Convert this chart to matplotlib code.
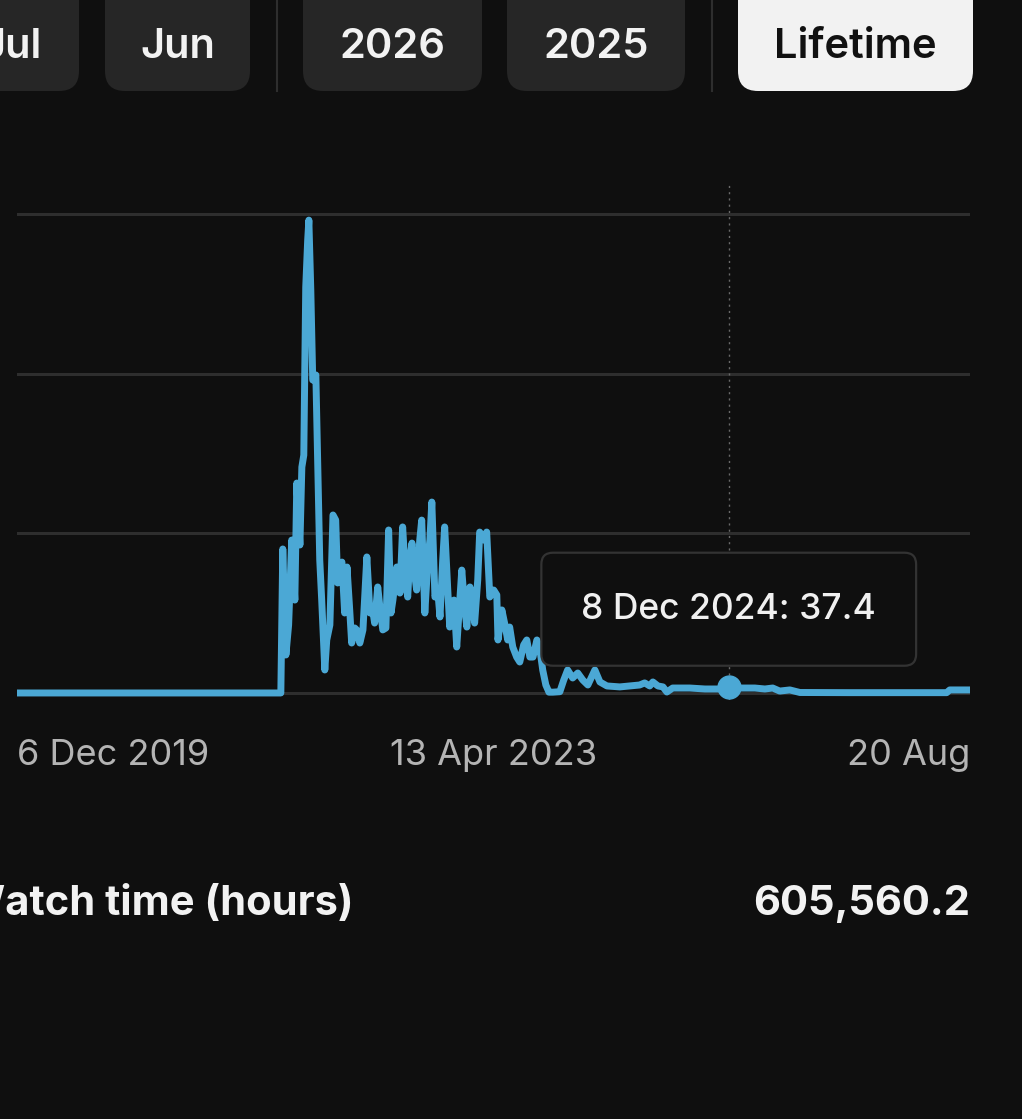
import matplotlib
matplotlib.use("Agg")
import matplotlib.pyplot as plt
import pandas as pd
from matplotlib.patches import FancyBboxPatch

plt.rcParams['font.family'] = ['Inter', 'DejaVu Sans']

# --- data (daily watch time, hours) ---
DATES = [
    "2019-12-06", "2021-10-14", "2021-10-19", "2021-10-27", "2021-11-03",
    "2021-11-11", "2021-11-19", "2021-11-24", "2021-12-02", "2021-12-07",
    "2021-12-12", "2021-12-17", "2021-12-22", "2021-12-25", "2021-12-30",
    "2022-01-04", "2022-01-12", "2022-01-17", "2022-01-22", "2022-01-27",
    "2022-02-04", "2022-02-09", "2022-02-17", "2022-02-25", "2022-03-04",
    "2022-03-09", "2022-03-15", "2022-03-20", "2022-03-27", "2022-04-02",
    "2022-04-09", "2022-04-14", "2022-04-22", "2022-04-27", "2022-05-05",
    "2022-05-13", "2022-05-23", "2022-05-31", "2022-06-07", "2022-06-12",
    "2022-06-20", "2022-06-25", "2022-07-03", "2022-07-11", "2022-07-18",
    "2022-07-24", "2022-07-29", "2022-08-08", "2022-08-16", "2022-08-23",
    "2022-08-31", "2022-09-05", "2022-09-10", "2022-09-16", "2022-09-23",
    "2022-09-28", "2022-10-06", "2022-10-11", "2022-10-19", "2022-10-27",
    "2022-11-01", "2022-11-06", "2022-11-14", "2022-11-21", "2022-11-27",
    "2022-12-04", "2022-12-09", "2022-12-17", "2022-12-22", "2023-01-02",
    "2023-01-09", "2023-01-17", "2023-01-22", "2023-01-30", "2023-02-04",
    "2023-02-12", "2023-02-19", "2023-02-24", "2023-03-04", "2023-03-09",
    "2023-03-20", "2023-03-27", "2023-04-04", "2023-04-14", "2023-04-22",
    "2023-04-25", "2023-05-05", "2023-05-13", "2023-05-20", "2023-05-25",
    "2023-06-02", "2023-06-12", "2023-06-20", "2023-06-30", "2023-07-08",
    "2023-07-16", "2023-07-24", "2023-08-03", "2023-08-11", "2023-08-18",
    "2023-08-26", "2023-09-03", "2023-09-13", "2023-10-01", "2023-10-11",
    "2023-10-21", "2023-11-03", "2023-11-16", "2023-11-29", "2023-12-12",
    "2023-12-30", "2024-01-12", "2024-01-30", "2024-03-03", "2024-03-29",
    "2024-04-23", "2024-05-06", "2024-05-19", "2024-05-27", "2024-06-09",
    "2024-06-22", "2024-07-02", "2024-07-17", "2024-08-30", "2024-10-08",
    "2024-11-15", "2024-12-08", "2024-12-24", "2025-01-13", "2025-02-13",
    "2025-03-11", "2025-03-31", "2025-04-18", "2025-05-14", "2025-06-09",
    "2025-10-15", "2026-02-21", "2026-06-21", "2026-06-29", "2026-07-25",
    "2026-08-20",
]
HOURS = [
    0, 0, 902, 238, 426,
    958, 582, 1315, 927, 1415,
    1490, 2543, 2837, 2962, 2524,
    1960, 1992, 1397, 833, 582,
    144, 332, 426, 1115, 1083,
    689, 802, 820, 501, 789,
    520, 313, 407, 395, 313,
    395, 852, 501, 520, 438,
    664, 551, 395, 407, 1021,
    501, 582, 789, 626, 1040,
    708, 601, 833, 939, 739,
    645, 958, 1083, 501, 833,
    958, 1196, 601, 645, 476,
    833, 1040, 645, 413, 582,
    288, 582, 770, 520, 413,
    664, 582, 438, 708, 1008,
    958, 1008, 601, 645, 614,
    332, 520, 426, 332, 413,
    288, 225, 194, 301, 332,
    225, 225, 332, 269, 144,
    50, 5, 5, 8, 81,
    144, 94, 125, 81, 50,
    144, 69, 44, 38, 44,
    50, 63, 44, 69, 44,
    38, 6, 31, 31, 25,
    25, 37.4, 31, 31, 31,
    25, 31, 12, 19, 3,
    2, 2, 2, 19, 19,
    19,
]
GRID_VALUES = [0, 1000, 2000, 3000]
TICK_DATES = ["2019-12-06", "2023-04-13", "2026-08-20"]
TICK_LABELS = ["6 Dec 2019", "13 Apr 2023", "20 Aug"]
HOVER_DATE = "2024-12-08"

TABS = ["Jul", "Jun", "2026", "2025", "Lifetime"]
ACTIVE_TAB = "Lifetime"
METRIC_LABEL = "Watch time (hours)"
METRIC_TOTAL = "605,560.2"

BG = "#0f0f0f"
LINE = "#4ba8d5"
W, H = 1022, 1119

fig = plt.figure(figsize=(W / 100, H / 100), dpi=100, facecolor=BG)

# UI layer in pixel coordinates
ui = fig.add_axes([0, 0, 1, 1])
ui.set_xlim(0, W)
ui.set_ylim(H, 0)
ui.axis("off")
ui.set_facecolor(BG)

# tab buttons (left, right) in px; first one runs off the left edge
tab_boxes = [(-80, 79), (105, 250), (303, 482), (507, 685), (738, 973)]
for label, (x0, x1) in zip(TABS, tab_boxes):
    active = label == ACTIVE_TAB
    ui.add_patch(FancyBboxPatch((x0, -20), x1 - x0, 111,
                                boxstyle="round,pad=0,rounding_size=20",
                                fc="#f2f2f2" if active else "#262626",
                                ec="none", zorder=1))
    tx = 42 if x0 < 0 else (x0 + x1) / 2
    ui.text(tx, 47, label, ha="right" if x0 < 0 else "center", va="center",
            fontsize=30, fontweight="semibold",
            color="#111111" if active else "#f2f2f2", zorder=2)
for sx in (277, 712):
    ui.plot([sx, sx], [0, 91], color="#2e2e2e", lw=1.5, zorder=1)

ui.text(353, 904, METRIC_LABEL, ha="right", va="center",
        fontsize=30, fontweight="bold", color="#f2f2f2")
ui.text(970, 904, METRIC_TOTAL, ha="right", va="center",
        fontsize=30, fontweight="bold", color="#f2f2f2")

# chart
ax = fig.add_axes([17 / W, 1 - 700 / H, 953 / W, 515 / H])
ax.set_facecolor("none")
dates = pd.to_datetime(DATES)
ax.plot(dates, HOURS, color=LINE, lw=5, solid_joinstyle="round",
        solid_capstyle="butt", zorder=3, clip_on=False)

ax.set_xlim(pd.Timestamp(TICK_DATES[0]), pd.Timestamp(TICK_DATES[-1]))
ax.set_ylim(-44, 3182)
ax.set_yticks(GRID_VALUES)
ax.set_yticklabels([])
ax.grid(True, axis="y", color="#2e2e2e", lw=2.2, zorder=0)
ax.set_axisbelow(True)
for s in ax.spines.values():
    s.set_visible(False)
ax.set_xticks(pd.to_datetime(TICK_DATES))
ax.set_xticklabels(TICK_LABELS, fontsize=26, color="#b4b4b4")
for lab, ha in zip(ax.get_xticklabels(), ["left", "center", "right"]):
    lab.set_ha(ha)
ax.tick_params(axis="both", length=0, pad=28)

# hover marker + tooltip
hd = pd.Timestamp(HOVER_DATE)
hv = HOURS[DATES.index(HOVER_DATE)]
ax.axvline(hd, color="#6a6a6a", lw=1, ls=(0, (1.5, 3)), zorder=2)
ax.plot([hd], [hv], "o", ms=16.5, color=LINE, zorder=4, clip_on=False)
ax.annotate(f"{hd.day} {hd:%b %Y}: {hv}", xy=(hd, hv), xytext=(0, 56),
            textcoords="offset points", ha="center", va="center",
            fontsize=25.5, fontweight="medium", color="#f0f0f0", zorder=6,
            bbox=dict(boxstyle="round,pad=1.13,rounding_size=0.33",
                      fc=BG, ec="#333333", lw=1.6))

fig.savefig("out.png", dpi=100, facecolor=BG)
